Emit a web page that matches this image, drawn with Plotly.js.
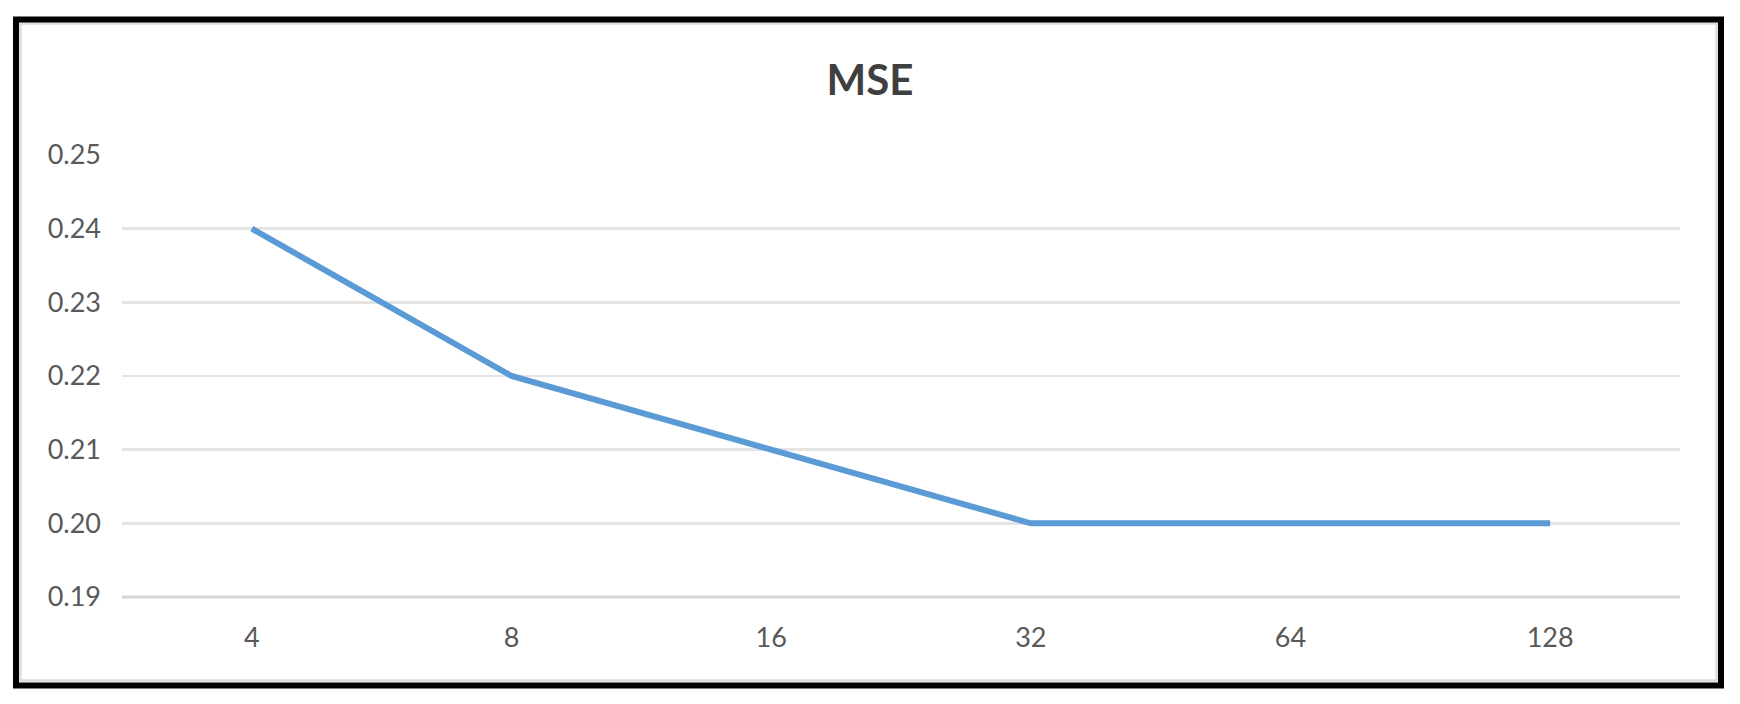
<!DOCTYPE html>
<html>
<head>
<meta charset="utf-8">
<script src="https://cdn.plot.ly/plotly-3.0.1.min.js"></script>
<style>
  html, body { margin: 0; padding: 0; background: #ffffff; }
  #chart { width: 1740px; height: 704px; }
</style>
</head>
<body>
<div id="chart"></div>
<script>
// ---- Data ----
const categories = ["4", "8", "16", "32", "64", "128"];
const mseValues = [0.24, 0.22, 0.21, 0.20, 0.20, 0.20];
const yTickValues = [0.19, 0.20, 0.21, 0.22, 0.23, 0.24, 0.25];
const yTickLabels = ["0.19", "0.20", "0.21", "0.22", "0.23", "0.24", "0.25"];
const chartTitle = "MSE";

// ---- Layout geometry ----
const W = 1740, H = 704;
const M = { l: 122, r: 60, t: 155, b: 107 };
const plotW = W - M.l - M.r;
const plotH = H - M.t - M.b;
const px = x => (x - M.l) / plotW;
const py = y => (H - M.b - y) / plotH;

const trace = {
  x: categories,
  y: mseValues,
  type: "scatter",
  mode: "lines",
  line: { color: "#5B9BD5", width: 6 },
  hoverinfo: "x+y"
};

const layout = {
  width: W,
  height: H,
  margin: M,
  paper_bgcolor: "#ffffff",
  plot_bgcolor: "#ffffff",
  showlegend: false,
  font: { family: "Lato, 'Open Sans', sans-serif", color: "#595959" },
  title: {
    text: "<b>" + chartTitle + "</b>",
    font: { family: "Lato, 'Open Sans', sans-serif", size: 42, color: "#3f3f3f" },
    x: 0.5,
    xref: "container",
    y: 1 - 80 / H,
    yref: "container",
    xanchor: "center",
    yanchor: "middle"
  },
  xaxis: {
    type: "category",
    range: [-0.5, categories.length - 0.5],
    showgrid: false,
    zeroline: false,
    showline: false,
    ticks: "",
    tickfont: { size: 27, color: "#595959" },
    ticklabelstandoff: 22,
    fixedrange: true
  },
  yaxis: {
    range: [0.19, 0.25],
    tickvals: yTickValues,
    ticktext: yTickLabels,
    showgrid: true,
    gridcolor: "#e4e4e4",
    gridwidth: 2.5,
    zeroline: false,
    showline: false,
    ticks: "",
    tickfont: { size: 27, color: "#595959" },
    ticklabelstandoff: 20,
    fixedrange: true
  },
  shapes: [
    // x-axis baseline (slightly darker than gridlines)
    { type: "line", xref: "paper", yref: "paper", x0: 0, x1: 1, y0: 0, y1: 0,
      line: { color: "#d6d6d6", width: 3 }, layer: "below" },
    // inner light-grey frame
    { type: "rect", xref: "paper", yref: "paper",
      x0: px(20.5), x1: px(1716.5), y0: py(680.5), y1: py(23.5),
      line: { color: "#dcdcdc", width: 2.5 }, fillcolor: "rgba(0,0,0,0)" },
    // outer black frame
    { type: "rect", xref: "paper", yref: "paper",
      x0: px(16), x1: px(1721), y0: py(685.5), y1: py(19.5),
      line: { color: "#000000", width: 6 }, fillcolor: "rgba(0,0,0,0)" }
  ]
};

Plotly.newPlot("chart", [trace], layout, { displayModeBar: false, staticPlot: true });
</script>
</body>
</html>
